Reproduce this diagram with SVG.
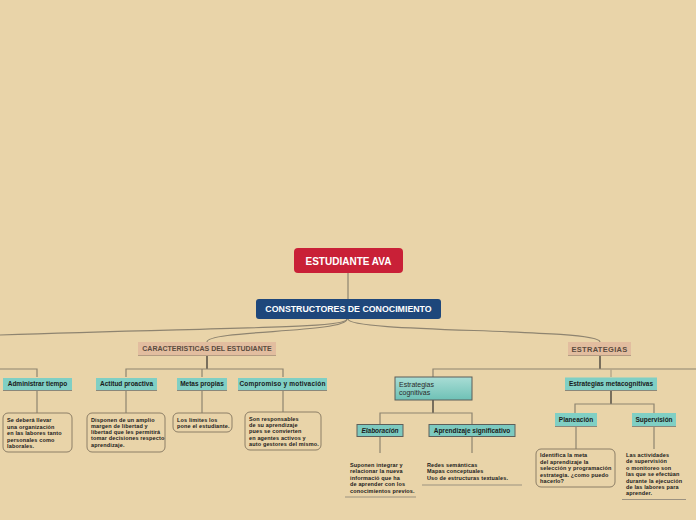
<svg xmlns="http://www.w3.org/2000/svg" width="696" height="520" viewBox="0 0 696 520">
<defs>
<linearGradient id="gcog" x1="0" y1="0" x2="0" y2="1">
<stop offset="0" stop-color="#A9DDD5"/>
<stop offset="1" stop-color="#6EC1B6"/>
</linearGradient>
<style>
text{font-family:"Liberation Sans",Arial,sans-serif;}
.conn{fill:none;stroke:#8E8470;stroke-width:1.2;}
.thick{fill:none;stroke:#6C6455;stroke-width:1.8;}
.light{fill:none;stroke:#B5A78A;stroke-width:1.4;}
.teal{fill:#80CFC4;}
.tealb{stroke:#8A877A;stroke-width:1.2;}
.tl{font-size:6.5px;font-weight:bold;fill:#1A1A1A;text-anchor:middle;}
.cat{fill:#E2BD9F;}
.catb{stroke:#B39C82;stroke-width:1;}
.ct{font-weight:bold;fill:#5A4C40;text-anchor:middle;}
.box{fill:none;stroke:#8C7E66;stroke-width:1;}
.d{font-size:5.5px;font-weight:bold;fill:#1A1A1A;letter-spacing:0.15px;}
.ul{stroke:#9C9280;stroke-width:1.2;}
</style>
</defs>
<rect x="0" y="0" width="696" height="520" fill="#E9D4A9"/>

<g id="connectors">
<line class="conn" x1="348" y1="273" x2="348" y2="299" stroke="#A8A49A"/>
<path class="conn" d="M347,319 C347,328 250,327 0,335"/>
<path class="conn" d="M347,319 C347,333 207,330 207,342"/>
<path class="conn" d="M348,319 C348,333 600,328 600,342"/>
<!-- caracteristicas branches -->
<line class="thick" x1="207" y1="355" x2="207" y2="369"/>
<polyline class="conn" points="126,377 126,369 283,369 283,377"/>
<line class="conn" x1="202" y1="369" x2="202" y2="377"/>
<polyline class="conn" points="0,369 37,369 37,377"/>
<line class="conn" x1="37" y1="390" x2="37" y2="413"/>
<line class="conn" x1="126" y1="390" x2="126" y2="413"/>
<line class="conn" x1="202" y1="391" x2="202" y2="413"/>
<line class="conn" x1="283" y1="390" x2="283" y2="412"/>
<!-- estrategias branches -->
<line class="thick" x1="600" y1="355" x2="600" y2="369"/>
<polyline class="conn" points="433,377 433,369 696,369"/>
<line class="light" x1="611" y1="369" x2="611" y2="377"/>
<line class="thick" x1="433" y1="400" x2="433" y2="413"/>
<polyline class="conn" points="380,425 380,413 472,413 472,425"/>
<line class="conn" x1="380" y1="436" x2="380" y2="453" stroke="#A89E88"/>
<line class="conn" x1="472" y1="436" x2="472" y2="453" stroke="#A89E88"/>
<line class="thick" x1="611" y1="390" x2="611" y2="404"/>
<polyline class="conn" points="575,413 575,404 654,404 654,413"/>
<line class="conn" x1="576" y1="426" x2="576" y2="449" stroke="#A89E88"/>
<line class="conn" x1="654" y1="426" x2="654" y2="449" stroke="#A89E88"/>
</g>

<g id="n-estudiante">
<rect x="294" y="248" width="109" height="25" rx="4" fill="#C92037"/>
<text x="348.5" y="264.5" font-size="10" font-weight="bold" fill="#FFFFFF" text-anchor="middle">ESTUDIANTE AVA</text>
</g>

<g id="n-constructores">
<rect x="256" y="299" width="185" height="20" rx="3" fill="#1E477B"/>
<text x="348.5" y="312" font-size="8.8" font-weight="bold" fill="#FFFFFF" text-anchor="middle">CONSTRUCTORES DE CONOCIMIENTO</text>
</g>

<g id="n-caracteristicas">
<rect class="cat" x="138" y="342" width="138" height="13"/>
<line class="catb" x1="138" y1="355.5" x2="276" y2="355.5"/>
<text class="ct" x="207" y="351.3" font-size="7">CARACTERISTICAS DEL ESTUDIANTE</text>
</g>

<g id="n-estrategias">
<rect class="cat" x="568" y="342" width="63" height="13"/>
<line class="catb" x1="568" y1="355.5" x2="631" y2="355.5"/>
<text class="ct" x="599.5" y="351.5" font-size="7.5" letter-spacing="0.3">ESTRATEGIAS</text>
</g>

<g id="n-administrar">
<rect class="teal" x="3" y="378" width="69" height="12"/>
<line class="tealb" x1="3" y1="390.5" x2="72" y2="390.5"/>
<text class="tl" x="37.5" y="386.3">Administrar tiempo</text>
</g>

<g id="n-actitud">
<rect class="teal" x="96" y="378" width="61" height="12"/>
<line class="tealb" x1="96" y1="390.5" x2="157" y2="390.5"/>
<text class="tl" x="126.5" y="386.3">Actitud proactiva</text>
</g>

<g id="n-metas">
<rect class="teal" x="177" y="378" width="50" height="12"/>
<line class="tealb" x1="177" y1="390.5" x2="227" y2="390.5"/>
<text class="tl" x="202" y="386.3">Metas propias</text>
</g>

<g id="n-compromiso">
<rect class="teal" x="238" y="378" width="89" height="12"/>
<line class="tealb" x1="238" y1="390.5" x2="327" y2="390.5"/>
<text class="tl" x="282.5" y="386" font-size="6" letter-spacing="0.2">Compromiso y motivación</text>
</g>

<g id="n-d-administrar">
<rect class="box" x="3" y="413" width="69" height="39" rx="5"/>
<text class="d" font-size="6" x="7" y="422">Se deberá llevar</text>
<text class="d" font-size="6" x="7" y="428.5">una organización</text>
<text class="d" font-size="6" x="7" y="435">en las labores tanto</text>
<text class="d" font-size="6" x="7" y="441.5">personales como</text>
<text class="d" font-size="6" x="7" y="448">laborales.</text>
</g>

<g id="n-d-actitud">
<rect class="box" x="87" y="413" width="78" height="39" rx="5"/>
<text class="d" x="91" y="421.5">Disponen de un amplio</text>
<text class="d" x="91" y="427.7">margen de libertad y</text>
<text class="d" x="91" y="433.9">libertad que les permitirá</text>
<text class="d" x="91" y="440.1">tomar decisiones respecto</text>
<text class="d" x="91" y="446.5">aprendizaje.</text>
</g>

<g id="n-d-metas">
<rect class="box" x="173" y="413" width="59" height="19" rx="5"/>
<text class="d" x="177" y="421.8">Los límites los</text>
<text class="d" x="177" y="428">pone el estudiante.</text>
</g>

<g id="n-d-compromiso">
<rect class="box" x="245" y="412" width="76" height="38" rx="5"/>
<text class="d" x="249" y="420.5">Son responsables</text>
<text class="d" x="249" y="427">de su aprendizaje</text>
<text class="d" x="249" y="433.3">pues se convierten</text>
<text class="d" x="249" y="439.6">en agentes activos y</text>
<text class="d" x="249" y="446">auto gestores del mismo.</text>
</g>

<g id="n-cognitivas">
<rect x="395" y="377" width="77" height="23" fill="url(#gcog)" stroke="#5C5C58" stroke-width="1"/>
<text x="399" y="386.5" font-size="7" fill="#2A2A2A">Estrategias</text>
<text x="399" y="394.5" font-size="7" fill="#2A2A2A">cognitivas</text>
</g>

<g id="n-elaboracion">
<rect x="357" y="424.5" width="46" height="12" fill="#7CC9BF" stroke="#5E5E5A" stroke-width="1"/>
<text class="tl" x="380" y="432.6" font-style="italic">Elaboración</text>
</g>

<g id="n-aprendizaje">
<rect x="429" y="424.5" width="86" height="12" fill="#7CC9BF" stroke="#5E5E5A" stroke-width="1"/>
<text class="tl" x="472" y="432.6">Aprendizaje significativo</text>
</g>

<g id="n-d-elaboracion">
<text class="d" x="350" y="466.5">Suponen integrar y</text>
<text class="d" x="350" y="473">relacionar la nueva</text>
<text class="d" x="350" y="479.5">informació que ha</text>
<text class="d" x="350" y="486">de aprender con los</text>
<text class="d" x="350" y="492.5">conocimientos previos.</text>
<line class="ul" x1="345" y1="497" x2="416" y2="497"/>
</g>

<g id="n-d-aprendizaje">
<text class="d" x="427" y="466.5" font-size="6">Redes semánticas</text>
<text class="d" x="427" y="473" font-size="6">Mapas conceptuales</text>
<text class="d" x="427" y="479.5" font-size="6">Uso de estructuras textuales.</text>
<line class="ul" x1="422" y1="485" x2="522" y2="485"/>
</g>

<g id="n-metacognitivas">
<rect class="teal" x="565" y="377.5" width="92" height="12.5"/>
<line class="tealb" x1="565" y1="390.5" x2="657" y2="390.5"/>
<text class="tl" x="611" y="386.3">Estrategias metacognitivas</text>
</g>

<g id="n-planeacion">
<rect class="teal" x="555" y="413" width="42" height="13"/>
<line class="tealb" x1="555" y1="426.5" x2="597" y2="426.5"/>
<text class="tl" x="576" y="421.8">Planeación</text>
</g>

<g id="n-supervision">
<rect class="teal" x="632" y="413" width="44" height="13"/>
<line class="tealb" x1="632" y1="426.5" x2="676" y2="426.5"/>
<text class="tl" x="654" y="421.8">Supervisión</text>
</g>

<g id="n-d-planeacion">
<rect class="box" x="536" y="449" width="79" height="38" rx="5"/>
<text class="d" x="540" y="457.3">Identifica la meta</text>
<text class="d" x="540" y="463.8">del aprendizaje la</text>
<text class="d" x="540" y="470.3">selección y programación</text>
<text class="d" x="540" y="476.8">estrategia. ¿como puedo</text>
<text class="d" x="540" y="483.3">hacerlo?</text>
</g>

<g id="n-d-supervision">
<text class="d" x="626" y="457">Las actividades</text>
<text class="d" x="626" y="463.4">de supervisión</text>
<text class="d" x="626" y="469.8">o monitoreo son</text>
<text class="d" x="626" y="476.2">las que se efectúan</text>
<text class="d" x="626" y="482.6">durante la ejecución</text>
<text class="d" x="626" y="489">de las labores para</text>
<text class="d" x="626" y="495.4">aprender.</text>
<line class="ul" x1="622" y1="499.5" x2="686" y2="499.5"/>
</g>
</svg>
